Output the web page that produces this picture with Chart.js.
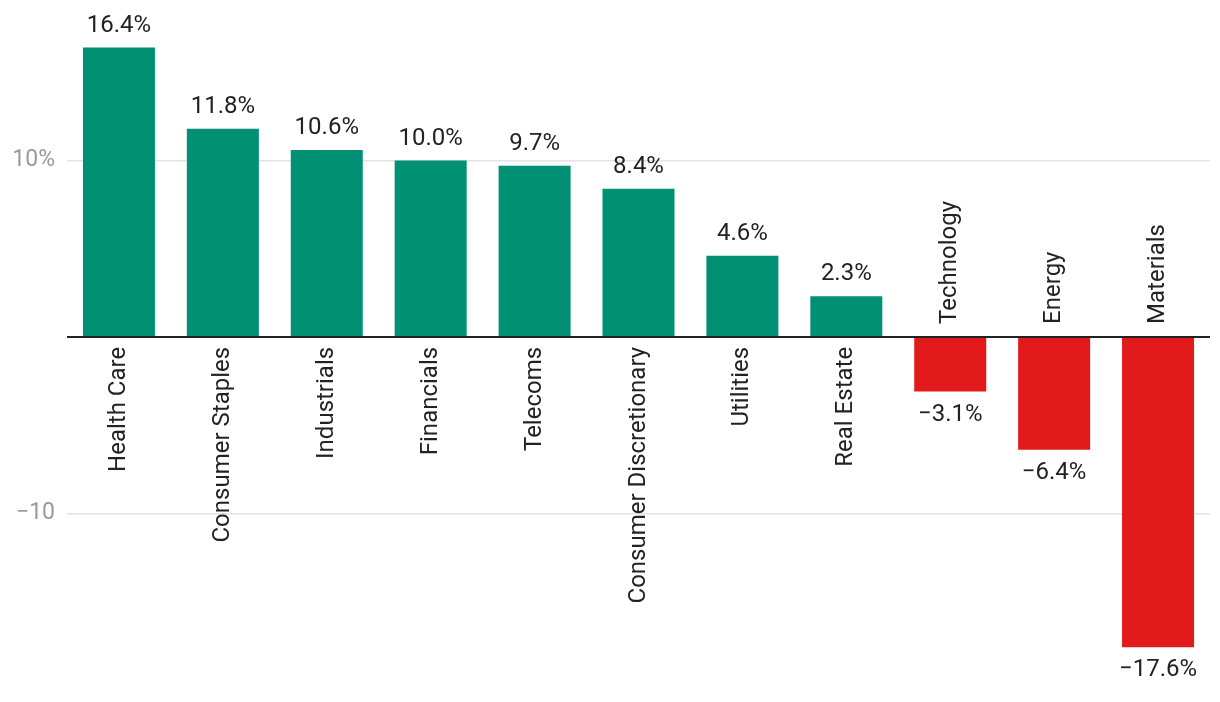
<!DOCTYPE html>
<html>
<head>
<meta charset="utf-8">
<script src="https://cdn.jsdelivr.net/npm/chart.js@4.4.0/dist/chart.umd.min.js"></script>
<style>
  html, body { margin: 0; padding: 0; background: #fff; }
  #wrap { width: 1220px; height: 702px; }
</style>
</head>
<body>
<div id="wrap"><canvas id="chart"></canvas></div>
<script>
// sector returns
const sectors = ['Health Care', 'Consumer Staples', 'Industrials', 'Financials', 'Telecoms',
    'Consumer Discretionary', 'Utilities', 'Real Estate', 'Technology', 'Energy', 'Materials'];
const returns = [16.4, 11.8, 10.6, 10.0, 9.7, 8.4, 4.6, 2.3, -3.1, -6.4, -17.6];
const yTicks = [-10, 0, 10];
const yTickLabels = ['\u221210', '', '10%'];

const GREEN = '#009175';
const RED = '#e31a1c';
const FONT = 'Roboto, sans-serif';

function fmt(v) {
    return (v < 0 ? '\u2212' + Math.abs(v).toFixed(1) : v.toFixed(1)) + '%';
}

const labelPlugin = {
    id: 'barLabels',
    afterDatasetsDraw(chart) {
        const ctx = chart.ctx;
        const meta = chart.getDatasetMeta(0);
        const y0 = chart.scales.y.getPixelForValue(0);
        ctx.save();
        ctx.font = '24px ' + FONT;
        ctx.fillStyle = '#222';
        meta.data.forEach((bar, i) => {
            const v = returns[i];
            // value label
            ctx.textAlign = 'center';
            if (v >= 0) {
                ctx.textBaseline = 'bottom';
                ctx.fillText(fmt(v), bar.x, bar.y - 10);
            } else {
                ctx.textBaseline = 'top';
                ctx.fillText(fmt(v), bar.x, bar.y + 11);
            }
            // category label, rotated
            ctx.save();
            ctx.textBaseline = 'middle';
            if (v >= 0) {
                ctx.translate(bar.x, y0 + 10);
                ctx.rotate(-Math.PI / 2);
                ctx.textAlign = 'right';
            } else {
                ctx.translate(bar.x, y0 - 13);
                ctx.rotate(-Math.PI / 2);
                ctx.textAlign = 'left';
            }
            ctx.fillText(sectors[i], 0, 0);
            ctx.restore();
        });
        ctx.restore();
    }
};

new Chart(document.getElementById('chart'), {
    type: 'bar',
    data: {
        labels: sectors,
        datasets: [{
            data: returns,
            backgroundColor: returns.map(v => v >= 0 ? GREEN : RED),
            barPercentage: 0.693,
            categoryPercentage: 1
        }]
    },
    options: {
        responsive: true,
        maintainAspectRatio: false,
        animation: false,
        layout: { padding: { left: 0, right: 10, top: 0, bottom: 0 } },
        plugins: { legend: { display: false }, tooltip: { enabled: false } },
        scales: {
            x: { display: false },
            y: {
                min: -20.7,
                max: 19.1,
                afterBuildTicks: axis => { axis.ticks = yTicks.map(v => ({ value: v })); },
                afterFit: axis => {
                    axis.width = 67;
                    axis.paddingTop = 0;
                    axis.paddingBottom = 0;
                },
                border: { display: false },
                grid: {
                    drawTicks: false,
                    color: c => c.tick.value === 0 ? '#222' : '#e3e3e3',
                    lineWidth: c => c.tick.value === 0 ? 2 : 1.5,
                    z: 0
                },
                ticks: {
                    padding: 12,
                    color: '#9a9a9a',
                    font: { family: FONT, size: 23 },
                    callback: v => yTickLabels[yTicks.indexOf(v)]
                }
            }
        }
    },
    plugins: [labelPlugin]
});
</script>
</body>
</html>
